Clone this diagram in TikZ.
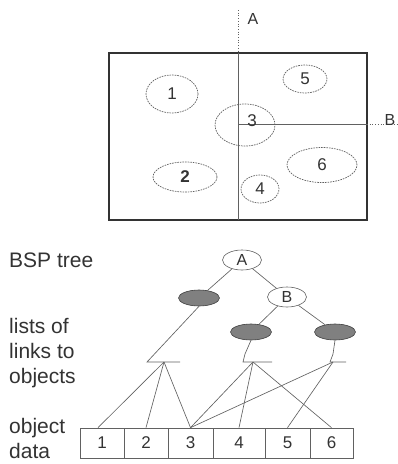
\documentclass[tikz,border=0pt]{standalone}
\usepackage{fontspec}
\setmainfont{Liberation Sans}
\usetikzlibrary{shapes.geometric}
\definecolor{ink}{gray}{0.2}
\definecolor{wire}{gray}{0.38}
\definecolor{leaf}{gray}{0.5}
\begin{document}
\begin{tikzpicture}[x=1pt,y=-1pt,
  every node/.style={text=ink},
  obj/.style={ellipse,draw=gray!75!black,dash pattern=on 1.6pt off 1pt,line width=0.7pt,inner sep=0pt},
  objlabel/.style={font=\fontsize{17}{17}\selectfont},
  split/.style={draw=wire,line width=0.7pt},
  splitext/.style={draw=wire,line width=0.7pt,dotted},
  tnode/.style={ellipse,draw=wire,fill=white,line width=0.6pt,inner sep=0pt,
    minimum width=39pt,minimum height=20pt,font=\fontsize{16}{16}\selectfont},
  leafnode/.style={ellipse,draw=gray!50!black,fill=leaf,line width=0.6pt,inner sep=0pt,
    minimum width=41pt,minimum height=16pt},
  link/.style={draw=wire,line width=0.65pt},
  cell/.style={rectangle,draw=wire,line width=0.7pt,inner sep=0pt,minimum height=30pt,
    font=\fontsize{17}{17}\selectfont},
  caption/.style={anchor=west,align=left,font=\fontsize{21}{25}\selectfont,inner sep=0pt}]
\useasboundingbox (0,0) rectangle (397,464);

% scene: bounding box with two splitting planes
\draw[draw=ink,line width=1.8pt] (109,53) rectangle (367,220);
\draw[splitext] (238,10) -- (238,53);
\draw[split] (238,53) -- (238,220);
\draw[split] (238,124) -- (367,124);
\draw[splitext] (367,124) -- (397,124);
\node (labA) at (253,19) {\fontsize{16}{16}\selectfont A};
\node (labB) at (390,120) {\fontsize{16}{16}\selectfont B};

% scene objects
\node[obj,minimum width=52pt,minimum height=38pt] (e1) at (172,94) {};
\node[objlabel] (t1) at (172,94) {1};
\node[obj,minimum width=44pt,minimum height=28pt] (e5) at (305,79) {};
\node[objlabel] (t5) at (305,79) {5};
\node[obj,minimum width=60pt,minimum height=42pt] (e3) at (245,125) {};
\node[objlabel] (t3) at (252,121) {3};
\node[obj,minimum width=64pt,minimum height=30pt] (e2) at (185,177) {};
\node[objlabel] (t2) at (185,177) {\bfseries 2};
\node[obj,minimum width=70pt,minimum height=35pt] (e6) at (322,165) {};
\node[objlabel] (t6) at (322,165) {6};
\node[obj,minimum width=38pt,minimum height=28pt] (e4) at (260,189) {};
\node[objlabel] (t4) at (260,189) {4};

% BSP tree
\node[tnode] (nA) at (242,260) {A};
\node[leafnode] (g1) at (199,298) {};
\node[tnode] (nB) at (287,297) {B};
\node[leafnode] (g2) at (251,332) {};
\node[leafnode] (g3) at (335,332) {};
\draw[link] (nA) -- (g1);
\draw[link] (nA) -- (nB);
\draw[link] (nB) -- (g2);
\draw[link] (nB) -- (g3);

% lists of links
\coordinate (l1a) at (147,362);
\coordinate (l1b) at (180,362);
\coordinate (l1) at (164,362);
\coordinate (l2a) at (243,362);
\coordinate (l2b) at (272,362);
\coordinate (l2) at (253,362);
\coordinate (l2k) at (245,354);
\coordinate (l3a) at (330,362);
\coordinate (l3b) at (346,362);
\coordinate (l3) at (333,362);
\coordinate (l3k) at (333,354);
\draw[link] (g1.south) -- (l1a) -- (l1b);
\draw[link] (g2.south) -- (l2k) -- (l2a) -- (l2b);
\draw[link] (g3.south) -- (l3k) -- (l3a) -- (l3b);

% object data
\node[cell,minimum width=44pt] (o1) at (102,443) {1};
\node[cell,minimum width=44pt] (o2) at (146,443) {2};
\node[cell,minimum width=45pt] (o3) at (190.5,443) {3};
\node[cell,minimum width=52pt] (o4) at (239,443) {4};
\node[cell,minimum width=45pt] (o5) at (287.5,443) {5};
\node[cell,minimum width=43pt] (o6) at (331.5,443) {6};

\draw[link] (l1) -- ([xshift=-4pt]o1.north);
\draw[link] (l1) -- (o2.north);
\draw[link] (l1) -- (o3.north);
\draw[link] (l2) -- (o3.north);
\draw[link] (l2) -- (o4.north);
\draw[link] (l2) -- (o6.north);
\draw[link] (l3) -- (o3.north);
\draw[link] (l3) -- (o5.north);

% captions
\node[caption] (c1) at (9,260) {BSP tree};
\node[caption] (c2) at (9,353) {lists of\\links to\\objects};
\node[caption] (c3) at (9,438) {object\\data};
\end{tikzpicture}
\end{document}
